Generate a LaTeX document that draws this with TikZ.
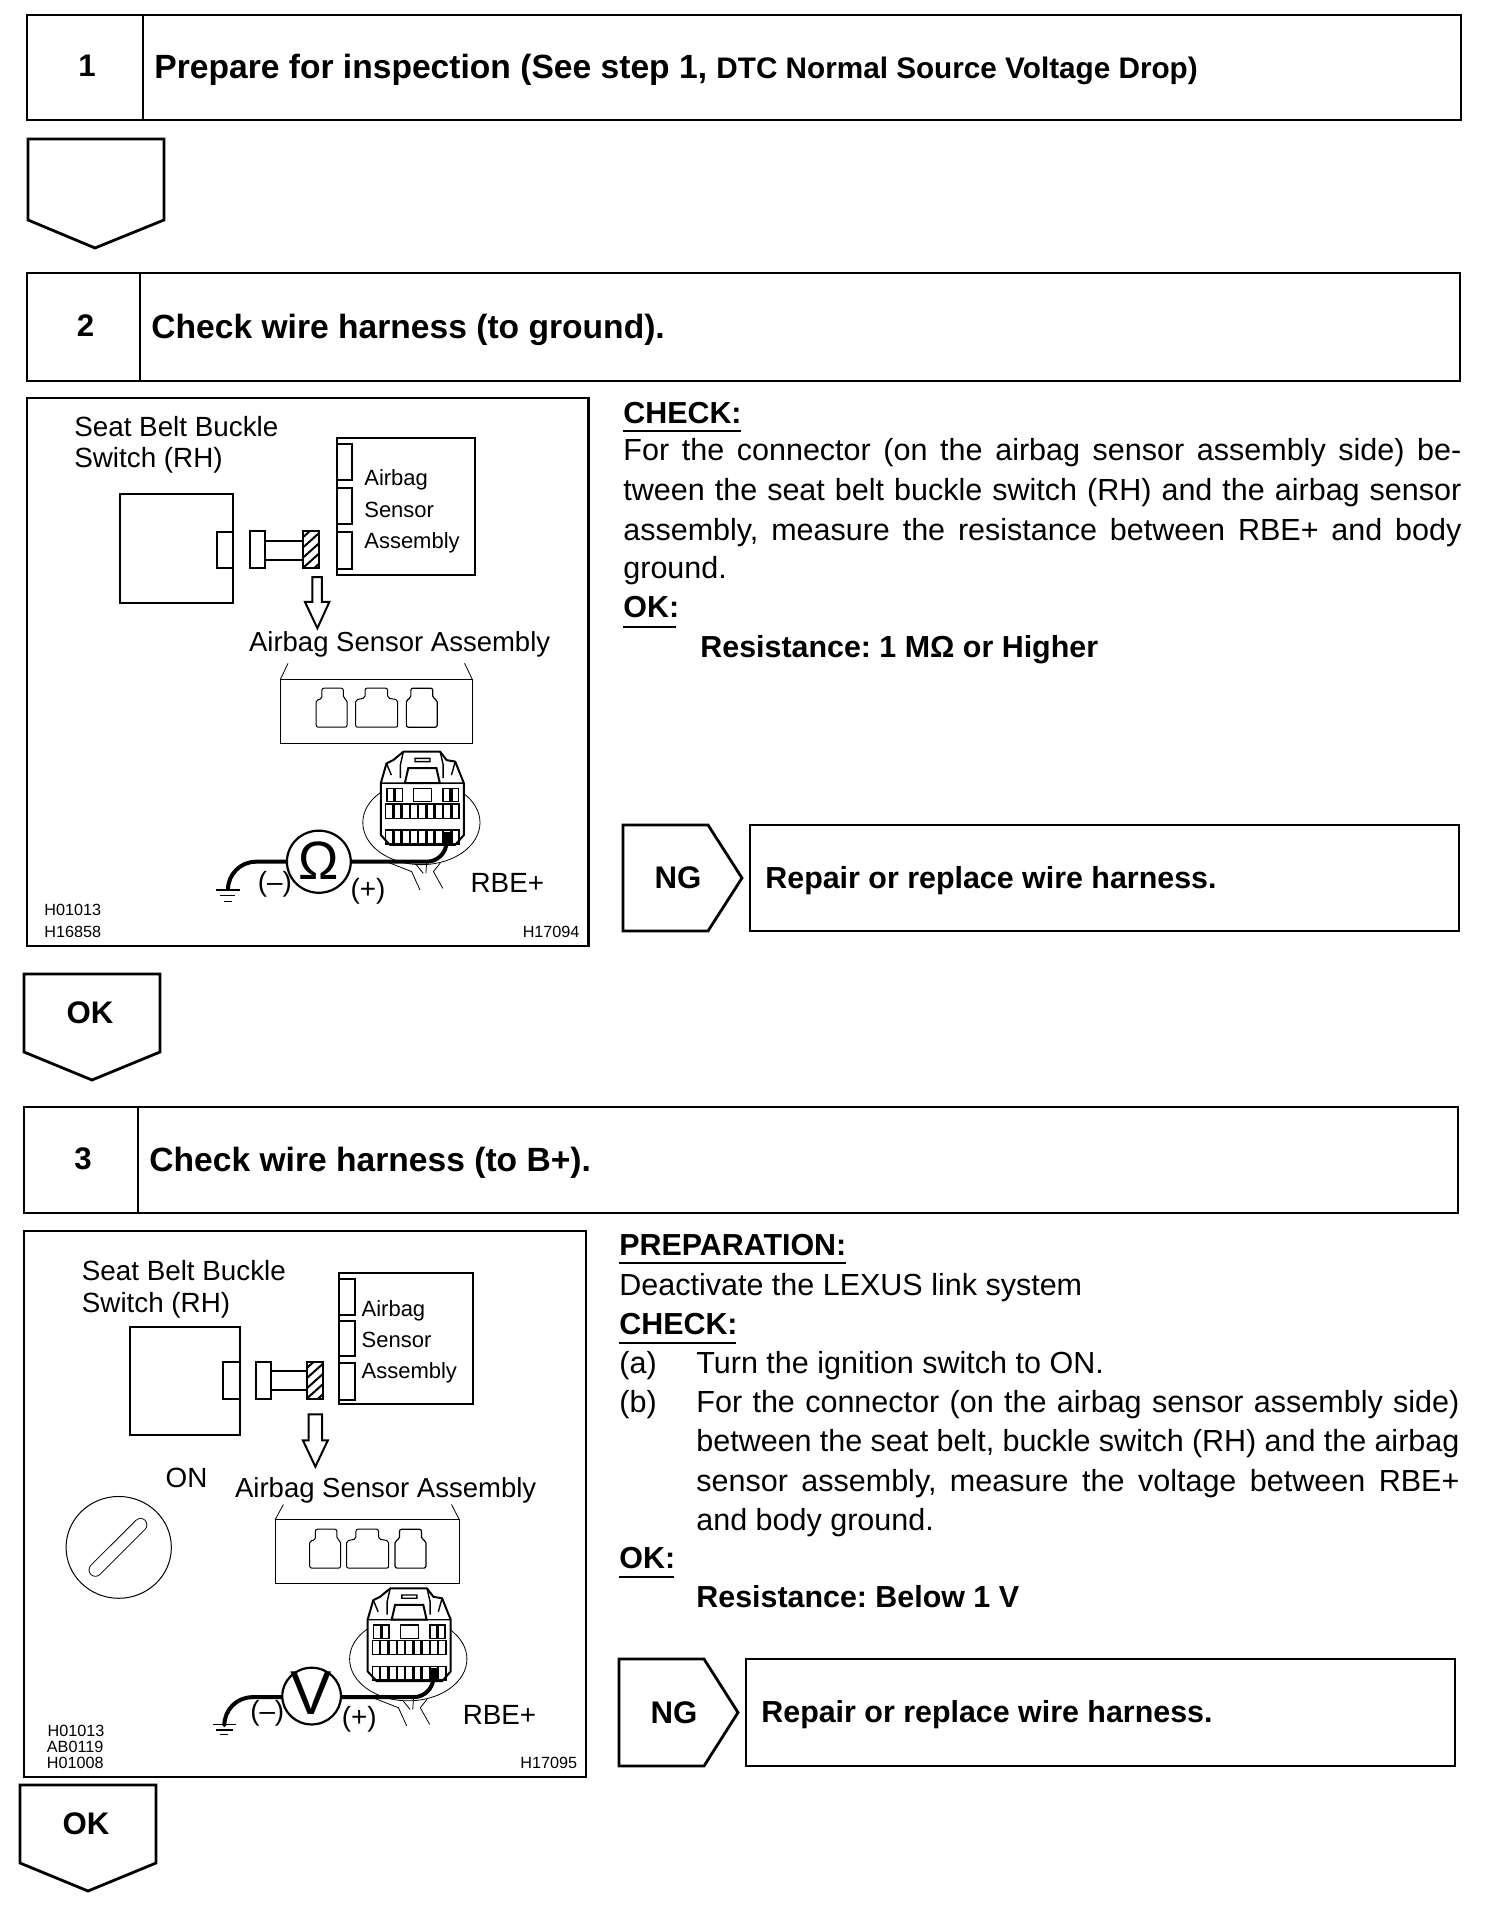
\documentclass[tikz,border=0pt]{standalone}
\usepackage{fontspec}
\setmainfont{Liberation Sans}
\tikzset{
  heavy/.style={line width=1.4pt,draw=black},
  frameline/.style={line width=1.3pt,draw=black,fill=white},
  thinln/.style={line width=0.4pt,draw=black},
  figln/.style={line width=1pt,draw=black},
  wire/.style={line width=2pt,draw=black,line join=round},
  txt/.style={inner sep=0pt,anchor=base west,font=\fontsize{15.25}{18}\selectfont\frenchspacing},
  btxt/.style={inner sep=0pt,anchor=base west,font=\fontsize{15.2}{18}\selectfont\bfseries\frenchspacing},
  numtxt/.style={inner sep=0pt,font=\fontsize{15.6}{18}\selectfont\bfseries},
  figbig/.style={inner sep=0pt,anchor=base west,font=\fontsize{13.9}{16}\selectfont},
  figmid/.style={inner sep=0pt,anchor=base west,font=\fontsize{11}{13}\selectfont},
  figcode/.style={inner sep=0pt,anchor=base west,font=\fontsize{8.1}{9}\selectfont},
}
% full-width justified line
\newcommand{\jline}[6][txt]{\node[#1] (#2) at (#3,#4) {\makebox[#5pt][s]{#6}};}
% step header: name, x1,y1,x2,y2,div, number, content
\newcommand{\headbox}[8]{%
  \draw[heavy] (#2,#3) rectangle (#4,#5);
  \draw[heavy] (#6,#3) -- (#6,#5);
  \node[numtxt] (#1n) at ({(#2+#6)/2+2},{(#3+#5)/2-1.5}) {#7};
  \node[btxt,anchor=west] (#1t) at ({#6+11},{(#3+#5)/2+2.5}) {#8};}
% NG + fix box
\newcommand{\ngrow}[7]{%
  \draw[heavy] (#2,#3) -- ({#2+85},#3) -- ({#2+119},{(#3+#4)/2}) -- ({#2+85},#4) -- (#2,#4) -- cycle;
  \node[numtxt] (#1a) at ({#2+55},{(#3+#4)/2}) {NG};
  \draw[heavy] (#5,#3) rectangle (#6,#4);
  \node[btxt,anchor=west] (#1b) at ({#5+15},{(#3+#4)/2+2.5}) {#7};}
% sockets: three x shifts and y shift
\newcommand{\sockets}[4]{%
  \begin{scope}[shift={(#1,#4)}]\draw[thinln,rounded corners=1pt,line width=0.5pt] (790,925) -- (790,850) -- (805,848) -- (805,818) -- (862,818) -- (862,845) -- (872,850) -- (872,925) -- cycle;\end{scope}
  \begin{scope}[shift={(#2,#4)}]\draw[thinln,rounded corners=1pt,line width=0.5pt] (895,925) -- (895,850) -- (920,845) -- (920,818) -- (980,818) -- (980,845) -- (1007,850) -- (1007,925) -- cycle;\end{scope}
  \begin{scope}[shift={(#3,#4)}]\draw[thinln,rounded corners=1pt,line width=0.6pt] (1030,925) -- (1030,850) -- (1042,845) -- (1042,818) -- (1100,818) -- (1100,845) -- (1112,850) -- (1112,925) -- cycle;\end{scope}
}
% connector detail
\newcommand{\connectordetail}{%
  \draw[thinln] (1070,1190) ellipse (156 and 115);
  \draw[figln,fill=white,line join=round] (962,1082) -- (977,1028) -- (995,1019) -- (1022,996) -- (1120,996) -- (1137,1019) -- (1160,1023) -- (1183,1082) -- (1183,1224) -- (1160,1251) -- (986,1251) -- (962,1224) -- cycle;
  \draw[line width=.7pt] (962,1082) -- (1183,1082) (1022,996) -- (1014,1032) -- (1014,1068) (1120,996) -- (1128,1032) -- (1128,1068) (977,1028) -- (990,1060) (1160,1023) -- (1150,1060) (1053,1014) rectangle (1093,1023);
  \draw[figln,fill=white] (1035,1041) -- (1110,1041) -- (1119,1082) -- (1026,1082) -- cycle;
  \draw[line width=.7pt] (978,1096) rectangle (997,1133) (1000,1096) rectangle (1019,1133) (1049,1096) rectangle (1097,1133) (1128,1096) rectangle (1146,1133) (1151,1096) rectangle (1168,1133);
  \foreach \i in {0,...,8} {
    \draw[line width=.7pt] ({975+\i*22},1139) rectangle ({994+\i*22},1178);
    \draw[line width=.7pt] ({975+\i*22},1210) rectangle ({994+\i*22},1248);
  }
  \draw[thinln,fill=white] (977,1297) -- (1044,1324) -- (1066,1374) (1057,1306) -- (1075,1329) (1084,1297) -- (1082,1329) (1120,1301) -- (1102,1324) -- (1127,1370);
  \fill (1124,1215) rectangle (1146,1247);
}
\begin{document}
\begin{tikzpicture}[x=0.5pt,y=-0.5pt]
\useasboundingbox (0,0) rectangle (1504,1914);
\fill[white] (0,0) rectangle (1504,1914);

% ---------- Step 1
\headbox{sa}{27}{15}{1461}{120}{143}{1}{\fontsize{16.8}{18}\selectfont Prepare for inspection (See step 1, {\fontsize{14.85}{18}\selectfont DTC Normal Source Voltage Drop)}}
\draw[heavy] (28,139) -- (164,139) -- (164,220) -- (95,248) -- (28,220) -- cycle;

% ---------- Step 2
\headbox{sb}{27}{273}{1460}{381}{140}{2}{\fontsize{16.8}{18}\selectfont Check wire harness (to ground).}
\node[btxt] (chkA) at (623,424) {CHECK:};
\draw[figln] (623,431) -- (741,431);
\jline{la1}{623}{461}{419}{For the connector (on the airbag sensor assembly side) be-}
\jline{la2}{623}{501}{419}{tween the seat belt buckle switch (RH) and the airbag sensor}
\jline{la3}{623}{540}{419}{assembly, measure the resistance between RBE+ and body}
\node[txt] (la4) at (623,579) {ground.};
\node[btxt] (okA) at (623,617) {OK:};
\draw[figln] (623,627) -- (676,627);
\node[btxt] (resA) at (700,657) {Resistance: 1 MΩ or Higher};
\ngrow{nga}{623}{825}{931}{750}{1459}{Repair or replace wire harness.}
\draw[heavy] (24,974) -- (160,974) -- (160,1052) -- (92,1080) -- (24,1052) -- cycle;
\node[numtxt] (oka) at (90,1013) {OK};

% ---------- Step 3
\headbox{sc}{24}{1107}{1458}{1213}{138}{3}{\fontsize{16.8}{18}\selectfont Check wire harness (to B+).}
\node[btxt] (prep) at (619,1255) {PREPARATION:};
\draw[figln] (619,1263) -- (846,1263);
\node[txt] (dea) at (619,1295) {Deactivate the LEXUS link system};
\node[btxt] (chkB) at (619,1334) {CHECK:};
\draw[figln] (619,1343) -- (736,1343);
\node[txt] (a0) at (619,1373) {(a)};
\node[txt] (a1) at (696,1373) {Turn the ignition switch to ON.};
\node[txt] (b0) at (619,1412) {(b)};
\jline{b1}{696}{1412}{381.5}{For the connector (on the airbag sensor assembly side)}
\jline{b2}{696}{1451}{381.5}{between the seat belt, buckle switch (RH) and the airbag}
\jline{b3}{696}{1491}{381.5}{sensor assembly, measure the voltage between RBE+}
\node[txt] (b4) at (696,1530) {and body ground.};
\node[btxt] (okB) at (619,1568) {OK:};
\draw[figln] (619,1577) -- (674,1577);
\node[btxt] (resB) at (696,1607) {Resistance: Below 1 V};
\ngrow{ngb}{619}{1659}{1766}{746}{1455}{Repair or replace wire harness.}
\draw[heavy] (20,1785) -- (156,1785) -- (156,1863) -- (88,1891) -- (20,1863) -- cycle;
\node[numtxt] (okb) at (86,1824) {OK};

% ---------- Figure 1
\begin{scope}[shift={(19.5,387.8)},x=0.1878pt,y=-0.1827pt]
  \draw[frameline] (20,28) rectangle (1515,1528);
  \node[figbig] (f1a) at (145,132) {Seat Belt Buckle};
  \node[figbig] (f1b) at (145,219) {Switch (RH)};
  \begin{scope}[shift={(0,8)}]
  \draw[figln] (268,282) rectangle (568,582);
  \draw[figln,fill=white] (525,388) rectangle (568,485);
  \draw[figln] (614,385) rectangle (654,485);
  \draw[figln] (654,410) -- (755,410) (654,462) -- (755,462);
  \draw[figln] (755,385) rectangle (797,485);
  \begin{scope}
    \clip (755,385) rectangle (797,485);
    \foreach \k in {0,...,5} \draw[line width=1pt] (745,{410+\k*28}) -- (810,{350+\k*28});
  \end{scope}
  \draw[figln] (845,130) rectangle (1212,503);
  \draw[figln,fill=white] (845,147) rectangle (885,245);
  \draw[figln,fill=white] (845,265) rectangle (885,365);
  \draw[figln,fill=white] (845,388) rectangle (885,488);
  \node[figmid] (f1c) at (917,260) {Airbag};
  \node[figmid] (f1d) at (917,347) {Sensor};
  \node[figmid] (f1e) at (917,433) {Assembly};
  \draw[figln] (780,510) -- (805,510) -- (805,578) -- (825,578) -- (793,650) -- (760,578) -- (780,578) -- cycle;
  \node[figbig,anchor=base,font=\fontsize{13.75}{16}\selectfont] (f1f) at (1012,713) {Airbag Sensor Assembly};
  \end{scope}
  \begin{scope}[shift={(0,4)}]
  \draw[thinln] (695,793) rectangle (1205,968);
  \draw[thinln] (695,793) -- (715,750) (1205,793) -- (1185,750);
  \sockets{0}{0}{0}{0}
  \end{scope}
  \connectordetail
  \draw[wire,rounded corners=10pt] (1137,1240) -- (1137,1297) -- (1000,1297) -- (880,1297);
  \draw[wire,rounded corners=14pt] (715,1297) -- (555,1297) -- (555,1375);
  \draw[figln,fill=white,line width=1.1pt] (797,1297) circle (85);
  \node[inner sep=0pt,font=\fontsize{27}{28}\selectfont] (f1g) at (797,1293) {Ω};
  \draw[line width=.8pt] (522,1375) -- (588,1375) (535,1390) -- (575,1390);
  \draw[line width=.5pt] (545,1405) -- (565,1405);
  \node[figbig,anchor=center] (f1h) at (680,1360) {(--)};
  \node[figbig,anchor=center] (f1i) at (928,1377) {(+)};
  \node[figbig] (f1j) at (1200,1382) {RBE+};
  \node[figcode] (f1k) at (65,1445) {H01013};
  \node[figcode] (f1l) at (65,1505) {H16858};
  \node[figcode,anchor=base east] (f1m) at (1492,1505) {H17094};
\end{scope}

% ---------- Figure 2
\begin{scope}[shift={(20.2,1224.5)},x=0.188pt,y=-0.1818pt]
  \draw[frameline] (10,18) rectangle (1505,1520);
  \node[figbig] (f2a) at (163,155) {Seat Belt Buckle};
  \node[figbig] (f2b) at (163,243) {Switch (RH)};
  \begin{scope}[shift={(0,4)}]
  \draw[figln] (292,278) rectangle (584,575);
  \draw[figln,fill=white] (540,375) rectangle (584,475);
  \draw[figln] (626,375) rectangle (666,475);
  \draw[figln] (666,398) -- (762,398) (666,452) -- (762,452);
  \draw[figln] (762,375) rectangle (806,475);
  \begin{scope}
    \clip (762,375) rectangle (806,475);
    \foreach \k in {0,...,5} \draw[line width=1pt] (752,{400+\k*28}) -- (817,{340+\k*28});
  \end{scope}
  \draw[figln] (848,130) rectangle (1205,490);
  \draw[figln,fill=white] (848,145) rectangle (890,245);
  \draw[figln,fill=white] (848,262) rectangle (890,358);
  \draw[figln,fill=white] (848,378) rectangle (890,478);
  \node[figmid] (f2c) at (907,250) {Airbag};
  \node[figmid] (f2d) at (907,335) {Sensor};
  \node[figmid] (f2e) at (907,420) {Assembly};
  \draw[figln] (767,518) -- (803,518) -- (803,590) -- (818,590) -- (785,662) -- (752,590) -- (767,590) -- cycle;
  \end{scope}
  \node[figbig] (f2on) at (386,723) {ON};
  \node[figbig,anchor=base,font=\fontsize{13.75}{16}\selectfont] (f2f) at (972,752) {Airbag Sensor Assembly};
  \draw[thinln,line width=.5pt] (262,888) circle (140);
  \draw[line width=6.8pt,line cap=round] (200,950) -- (320,826);
  \draw[line width=5.9pt,line cap=round,white] (200,950) -- (320,826);
  \draw[thinln] (678,812) rectangle (1168,987);
  \draw[thinln] (678,812) -- (700,770) (1168,812) -- (1147,770);
  \sockets{-20}{-27}{-33}{20}
  \begin{scope}[shift={(-38,5)}]\connectordetail\end{scope}
  \draw[wire,rounded corners=10pt] (1099,1240) -- (1099,1300) -- (980,1300) -- (851,1300);
  \draw[wire,rounded corners=14pt] (700,1300) -- (543,1300) -- (543,1375);
  \draw[figln,fill=white,line width=1.1pt] (775,1297) circle (78);
  \node[inner sep=0pt,font=\fontsize{31}{32}\selectfont] (f2g) at (775,1290) {V};
  \draw[line width=.8pt] (512,1375) -- (575,1375) (522,1390) -- (565,1390);
  \draw[line width=.5pt] (532,1403) -- (552,1403);
  \node[figbig,anchor=center] (f2h) at (657,1345) {(--)};
  \node[figbig,anchor=center] (f2i) at (902,1360) {(+)};
  \node[figbig] (f2j) at (1176,1374) {RBE+};
  \node[figcode] (f2k) at (72,1408) {H01013};
  \node[figcode] (f2l) at (70,1452) {AB0119};
  \node[figcode] (f2m) at (70,1497) {H01008};
  \node[figcode,anchor=base east] (f2n) at (1482,1497) {H17095};
\end{scope}
\end{tikzpicture}
\end{document}
